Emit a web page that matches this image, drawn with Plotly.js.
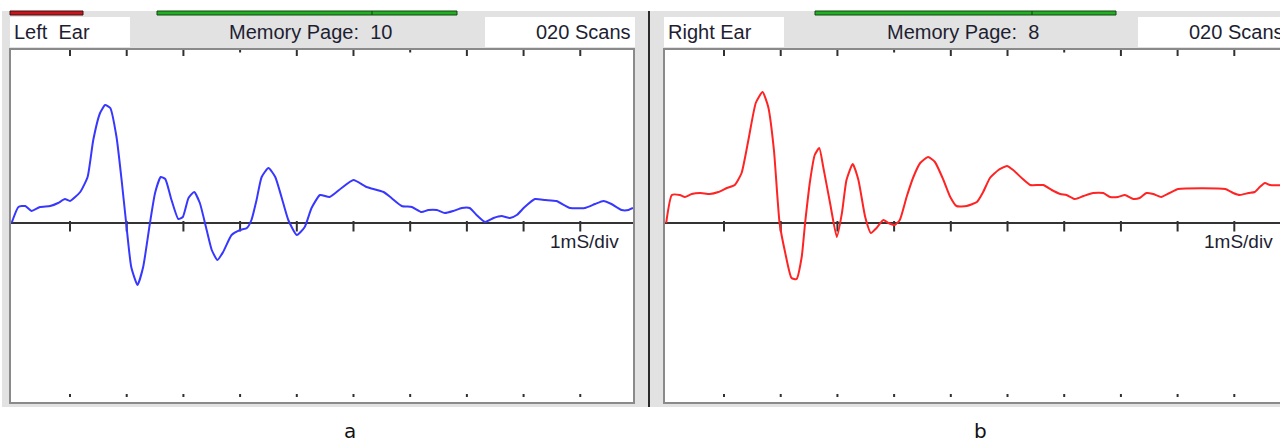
<!DOCTYPE html>
<html><head><meta charset="utf-8">
<script src="https://cdn.plot.ly/plotly-3.0.1.min.js"></script>
<style>html,body{margin:0;padding:0;background:#fff;overflow:hidden}#chart{width:1280px;height:445px}</style>
</head><body><div id="chart"></div>
<script>
// ---- data (time in ms, amplitude in arbitrary units) ----
const leftTime = [-0.03,0.09,0.21,0.32,0.47,0.65,0.79,0.91,1.00,1.18,1.31,1.41,1.53,1.62,1.71,1.82,1.91,1.99,2.08,2.19,2.29,2.41,2.50,2.60,2.68,2.79,2.91,2.99,3.09,3.19,3.29,3.41,3.50,3.60,3.70,3.85,4.00,4.12,4.20,4.29,4.38,4.50,4.62,4.73,4.85,5.00,5.14,5.26,5.41,5.58,5.79,6.00,6.23,6.53,6.67,6.85,7.03,7.20,7.32,7.47,7.61,7.76,7.91,8.05,8.17,8.32,8.47,8.61,8.76,8.88,9.02,9.20,9.38,9.58,9.82,10.08,10.26,10.41,10.55,10.73,10.85,10.93];
const leftAmp  = [0.00,0.16,0.17,0.12,0.16,0.17,0.20,0.24,0.22,0.31,0.46,0.83,1.10,1.18,1.15,0.86,0.43,0.00,-0.44,-0.62,-0.44,0.00,0.30,0.46,0.44,0.23,0.04,0.06,0.25,0.31,0.20,-0.07,-0.27,-0.37,-0.29,-0.12,-0.07,-0.05,0.03,0.23,0.46,0.55,0.46,0.26,0.03,-0.12,-0.04,0.15,0.28,0.26,0.35,0.43,0.36,0.31,0.25,0.17,0.16,0.11,0.13,0.13,0.10,0.12,0.15,0.15,0.08,0.01,0.05,0.07,0.05,0.08,0.16,0.24,0.23,0.22,0.15,0.15,0.19,0.22,0.19,0.13,0.13,0.15];
const rightTime = [-0.02,0.08,0.22,0.31,0.43,0.58,0.75,0.90,1.05,1.19,1.31,1.43,1.56,1.68,1.78,1.88,1.98,2.08,2.19,2.28,2.37,2.43,2.52,2.60,2.68,2.75,2.87,2.99,3.08,3.16,3.27,3.37,3.49,3.59,3.69,3.81,3.90,4.01,4.10,4.22,4.34,4.46,4.60,4.72,4.87,4.99,5.10,5.28,5.46,5.57,5.69,5.84,5.99,6.10,6.25,6.40,6.63,6.78,6.93,7.04,7.19,7.34,7.51,7.69,7.81,7.95,8.07,8.22,8.33,8.45,8.57,8.71,8.86,9.01,9.84,9.98,10.10,10.25,10.36,10.45,10.54,10.63,10.93];
const rightAmp  = [0.00,0.28,0.28,0.26,0.29,0.30,0.29,0.31,0.35,0.38,0.50,0.83,1.20,1.31,1.16,0.73,0.00,-0.30,-0.55,-0.56,-0.34,0.00,0.43,0.68,0.75,0.56,0.20,-0.14,0.10,0.43,0.59,0.43,0.06,-0.10,-0.05,0.03,0.00,-0.02,0.03,0.26,0.46,0.60,0.66,0.61,0.43,0.26,0.17,0.17,0.21,0.31,0.45,0.53,0.57,0.53,0.45,0.38,0.38,0.33,0.29,0.28,0.24,0.27,0.30,0.30,0.26,0.26,0.28,0.24,0.25,0.30,0.29,0.26,0.30,0.34,0.34,0.30,0.28,0.30,0.31,0.36,0.40,0.38,0.38];
const tickTimes = [1,2,3,4,5,6,7,8,9,10];
const minorTopTicks = [4,7];
const earNames = ['Left\u00a0 Ear', 'Right Ear'];
const memoryPages = [10, 8];
const scanCounts = ['020', '020'];
const scaleLabel = '1mS/div';
const panelLabels = ['a', 'b'];

// ---- layout helpers (pixel -> paper) ----
const W = 1280, H = 445;
const PX = x => x / W, PY = y => 1 - y / H;
const plotTop = 50, plotBot = 402;
const font = 'Liberation Sans, Arial, sans-serif';
const txtColor = '#1e1e32';

const traces = [
  {x: leftTime, y: leftAmp, xaxis: 'x', yaxis: 'y', mode: 'lines', line: {color: 'rgb(55,55,255)', width: 2, shape: 'spline', smoothing: 0.5}, hoverinfo: 'skip'},
  {x: rightTime, y: rightAmp, xaxis: 'x2', yaxis: 'y2', mode: 'lines', line: {color: 'rgb(255,35,35)', width: 2, shape: 'spline', smoothing: 0.5}, hoverinfo: 'skip'}
];

const shapes = [];
function rect(x0, x1, y0, y1, fill, lineColor, lw) {
  shapes.push({type: 'rect', xref: 'paper', yref: 'paper', x0: PX(x0), x1: PX(x1), y0: PY(y1), y1: PY(y0),
    fillcolor: fill, line: {color: lineColor || fill, width: lw || 0}, layer: 'below'});
}
function pline(x0, x1, y0, y1, color, w) {
  shapes.push({type: 'line', xref: 'paper', yref: 'paper', x0: PX(x0), x1: PX(x1), y0: PY(y0), y1: PY(y1),
    line: {color: color, width: w}, layer: 'above'});
}
// gray window band
rect(2, 1280, 11, 407, '#e2e2e2');
// white plot areas
rect(11, 633, plotTop, plotBot, '#ffffff');
rect(665, 1282, plotTop, plotBot, '#ffffff');
// white header boxes
rect(10, 130, 17, 47, '#ffffff');
rect(485, 635, 17, 47, '#ffffff');
rect(664, 784, 17, 47, '#ffffff');
rect(1138, 1282, 17, 47, '#ffffff');
// status bars
rect(10, 83, 11, 15, '#c8161e', '#401010', 1);
rect(157, 457, 11, 15, '#22b022', '#124412', 1);
rect(815, 1116, 11, 15, '#22b022', '#124412', 1);
pline(372, 372, 11, 15, '#124412', 1);
pline(1032, 1032, 11, 15, '#124412', 1);
// panel separator
pline(649, 649, 11, 407, '#2a2a2a', 2);

// tick marks from tick values
['x', 'x2'].forEach((xa, i) => {
  const ya = i === 0 ? 'y' : 'y2';
  tickTimes.forEach(t => {
    const short = minorTopTicks.includes(t);
    shapes.push({type: 'line', xref: xa, yref: 'paper', x0: t, x1: t, y0: PY(plotTop), y1: PY(short ? 52.5 : 56), line: {color: '#303030', width: 2}});
    shapes.push({type: 'line', xref: xa, yref: 'paper', x0: t, x1: t, y0: PY(394), y1: PY(397), line: {color: '#303030', width: 2}});
    shapes.push({type: 'line', xref: xa, yref: ya, x0: t, x1: t, y0: 0.02, y1: -0.085, line: {color: '#303030', width: 2}, layer: 'below'});
  });
});

const annotations = [];
function txt(text, x, y, anchor, size, fam, color) {
  annotations.push({text: text, xref: 'paper', yref: 'paper', x: PX(x), y: PY(y), xanchor: anchor, yanchor: 'middle',
    showarrow: false, font: {family: fam || font, size: size || 20, color: color || txtColor}, borderpad: 0});
}
const offsets = [0, 654];
[0, 1].forEach(i => {
  const o = offsets[i];
  txt(earNames[i], 13 + o, 32, 'left');
  txt('Memory Page:\u00a0 ' + memoryPages[i], 310 + o - (i ? 1 : 0), 32, 'center');
  if (i === 0) txt(scanCounts[i] + ' Scans', 632, 32, 'right');
  else txt(scanCounts[i] + ' Scans', 1188, 32, 'left');
  txt(scaleLabel, 620 + o, 241, 'right', 19);
});
txt(panelLabels[0], 350, 431, 'center', 20, 'DejaVu Sans, sans-serif', '#111');
txt(panelLabels[1], 980, 431, 'center', 20, 'DejaVu Sans, sans-serif', '#111');

const axX = {showgrid: false, zeroline: false, showticklabels: false, ticks: '', showline: true, mirror: true,
  linecolor: '#8a8a8a', linewidth: 2, fixedrange: true};
const axY = {showgrid: false, zeroline: true, zerolinecolor: '#333333', zerolinewidth: 2, showticklabels: false, ticks: '',
  showline: true, linecolor: '#8a8a8a', linewidth: 2, fixedrange: true, range: [-1.79, 1.73], domain: [PY(plotBot), PY(plotTop)]};

const layout = {
  width: W, height: H, margin: {l: 0, r: 0, t: 0, b: 0},
  paper_bgcolor: '#ffffff', plot_bgcolor: '#ffffff', showlegend: false,
  xaxis: Object.assign({}, axX, {domain: [PX(11), PX(633)], range: [-0.041, 10.93], anchor: 'y'}),
  yaxis: Object.assign({}, axY, {anchor: 'x', mirror: true}),
  xaxis2: Object.assign({}, axX, {domain: [PX(665), 1], range: [-0.041, 10.806], anchor: 'y2'}),
  yaxis2: Object.assign({}, axY, {anchor: 'x2', mirror: false}),
  shapes: shapes, annotations: annotations
};
Plotly.newPlot('chart', traces, layout, {displayModeBar: false, staticPlot: true});
</script></body></html>
